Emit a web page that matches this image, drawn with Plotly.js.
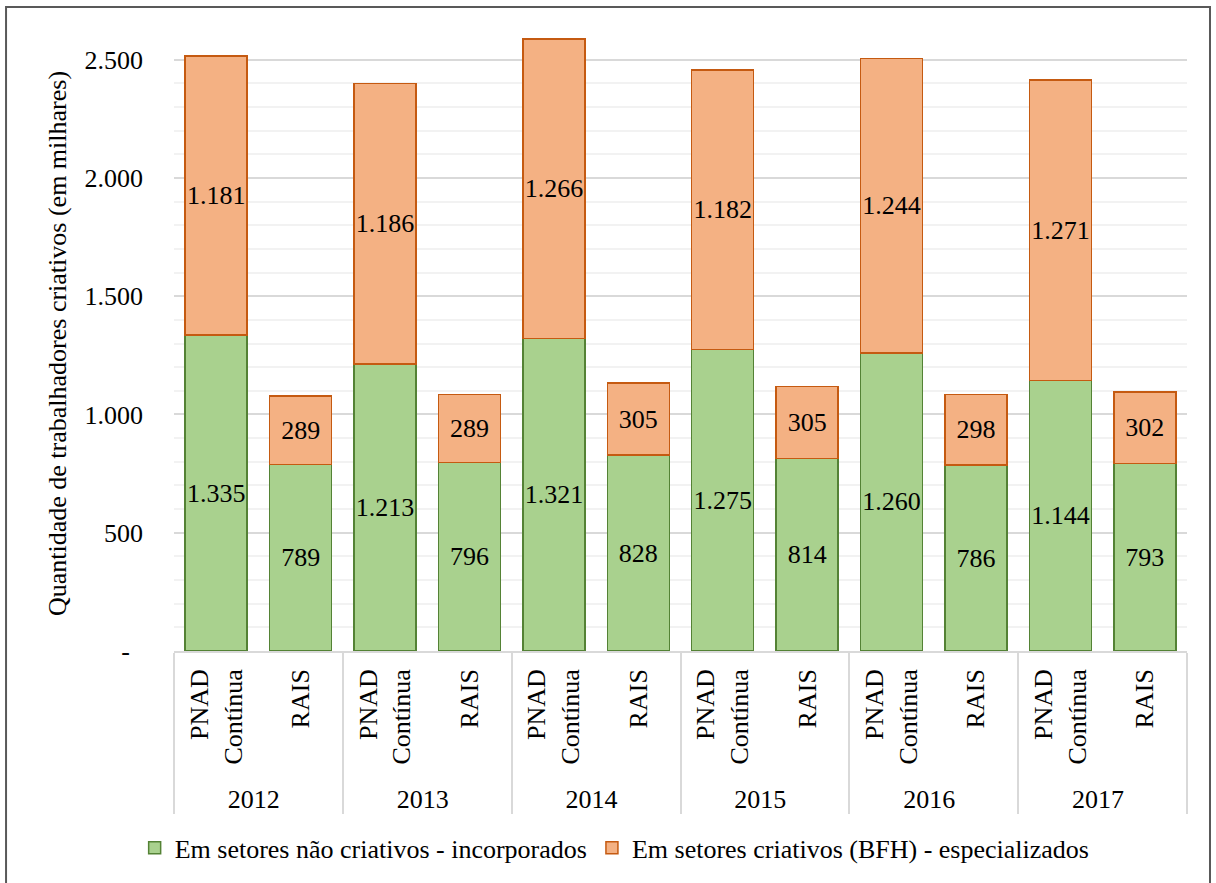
<!DOCTYPE html>
<html>
<head>
<meta charset="utf-8">
<script src="https://cdn.plot.ly/plotly-3.0.1.min.js"></script>
</head>
<body style="margin:0">
<div id="chart" style="width:1216px;height:883px"></div>
<script>
// Years (outer axis level) and data sources (inner axis level)
const years = ["2012", "2012", "2013", "2013", "2014", "2014", "2015", "2015", "2016", "2016", "2017", "2017"];
const sources = ["PNAD<br>Contínua", "RAIS", "PNAD<br>Contínua", "RAIS", "PNAD<br>Contínua", "RAIS",
                 "PNAD<br>Contínua", "RAIS", "PNAD<br>Contínua", "RAIS", "PNAD<br>Contínua", "RAIS"];

// Creative workers, in thousands
const incorporados = [1335, 789, 1213, 796, 1321, 828, 1275, 814, 1260, 786, 1144, 793];
const especializados = [1181, 289, 1186, 289, 1266, 305, 1182, 305, 1244, 298, 1271, 302];

const seriesNames = ["Em setores não criativos - incorporados", "Em setores criativos (BFH) - especializados"];

// Y-axis ticks (zero shown as a dash, accounting style)
const yTickVals = [0, 500, 1000, 1500, 2000, 2500];
const yTickText = ["-\u00a0\u00a0", "500", "1.000", "1.500", "2.000", "2.500"];

function fmtThousands(v) { return v.toLocaleString("de-DE"); }
const TXT = 26;

function makeFont(size) { return { family: "Times New Roman", size: size, color: "#000000" }; }

const traces = [
  {
    type: "bar", name: seriesNames[0],
    x: [years, sources], y: incorporados,
    text: incorporados.map(fmtThousands), textposition: "inside", insidetextanchor: "middle",
    textangle: 0, constraintext: "none", textfont: makeFont(TXT),
    marker: { color: "#A9D18E", line: { color: "#548235", width: 1.5 } },
    hoverinfo: "none"
  },
  {
    type: "bar", name: seriesNames[1],
    x: [years, sources], y: especializados,
    text: especializados.map(fmtThousands), textposition: "inside", insidetextanchor: "middle",
    textangle: 0, constraintext: "none", textfont: makeFont(TXT),
    marker: { color: "#F4B183", line: { color: "#C55A11", width: 1.5 } },
    hoverinfo: "none"
  }
];

const layout = {
  width: 1216, height: 883,
  margin: { l: 174, r: 29, t: 36, b: 232 },
  paper_bgcolor: "#ffffff", plot_bgcolor: "#ffffff",
  barmode: "stack", bargap: 0.265,
  separators: ",.",
  font: makeFont(TXT),
  showlegend: true,
  legend: {
    orientation: "h", x: 0.435, xanchor: "center", y: -0.32, yanchor: "middle",
    font: makeFont(TXT),
    traceorder: "normal", itemwidth: 30
  },
  xaxis: {
    type: "multicategory",
    tickangle: -90,
    tickfont: makeFont(TXT),
    ticklabelstandoff: 6,
    showline: true, linecolor: "#d9d9d9", linewidth: 1.5,
    showdividers: true, dividercolor: "#d9d9d9", dividerwidth: 1.5,
    ticks: "", showgrid: false
  },
  yaxis: {
    title: { text: "Quantidade de trabalhadores criativos (em milhares)", font: makeFont(TXT), standoff: 10 },
    range: [0, 2600],
    tickvals: yTickVals, ticktext: yTickText,
    tickfont: makeFont(TXT),
    ticklabelstandoff: 30,
    showgrid: true, gridcolor: "#d9d9d9", gridwidth: 1.5,
    minor: { dtick: 100, showgrid: true, gridcolor: "#f2f2f2", gridwidth: 1.5 },
    zeroline: false, showline: false, ticks: ""
  },
  shapes: [
    {
      type: "rect", xref: "paper", yref: "paper",
      x0: -0.1658, x1: 1.0227, y0: -0.40, y1: 1.0472,
      line: { color: "#595959", width: 2 }, fillcolor: "rgba(0,0,0,0)", layer: "above"
    }
  ]
};

Plotly.newPlot("chart", traces, layout, { displayModeBar: false });
</script>
</body>
</html>
